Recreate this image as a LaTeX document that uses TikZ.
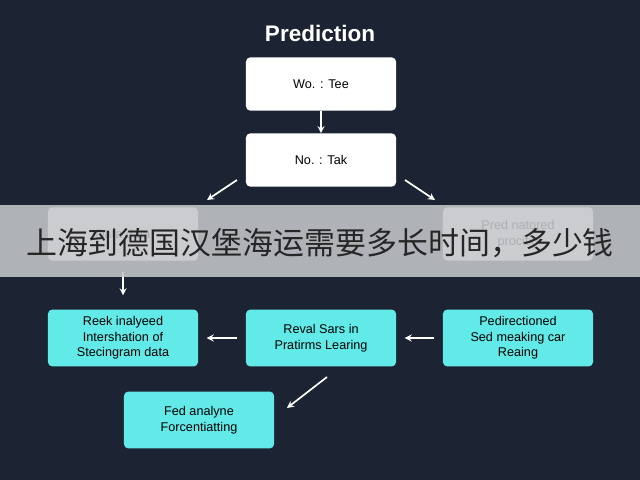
\documentclass[tikz,border=0pt]{standalone}
\usepackage{fontspec}
\setmainfont{Liberation Sans}
\newfontfamily\cjk{Noto Sans CJK SC}
\definecolor{bgdark}{HTML}{1C2333}
\definecolor{boxcyan}{HTML}{62EAE8}
\definecolor{banner}{HTML}{C4C6CA}
\tikzset{
  stepbox/.style={draw=none, rounded corners=3pt, minimum width=3.75cm, align=center, font=\small, inner sep=1pt},
  whitebox/.style={stepbox, fill=white, minimum height=1.33cm},
  cyanbox/.style={stepbox, fill=boxcyan, minimum height=1.42cm},
  flow/.style={->, >=stealth, white, line width=1.2pt}
}
\begin{document}
\begin{tikzpicture}[x=0.025cm, y=-0.025cm]
    % Background
    \fill[bgdark] (0,0) rectangle (640,480);
    \useasboundingbox (0,0) rectangle (640,480);

    % Title
    \node[white, font=\fontsize{16}{18}\selectfont\bfseries] (title) at (320,33) {Prediction};

    % Top column
    \node[whitebox] (wo) at (321,84) {Wo. : Tee};
    \node[whitebox] (no) at (321,160) {No. : Tak};

    % Second row
    \node[whitebox] (data) at (123,234) {Data data};
    \node[whitebox] (pred) at (518,234) {Pred natored\\procitio};

    % Third row
    \node[cyanbox] (reek) at (123,338) {Reek inalyeed\\Intershation of\\Stecingram data};
    \node[cyanbox] (reval) at (321,338) {Reval Sars in\\Pratirms Learing};
    \node[cyanbox] (pedir) at (518,338) {Pedirectioned\\Sed meaking car\\Reaing};

    % Bottom
    \node[cyanbox] (fed) at (199,420) {Fed analyne\\Forcentiatting};

    % Arrows
    \coordinate (lt) at (237,180);
    \coordinate (lh) at (207,200);
    \coordinate (rt) at (405,180);
    \coordinate (rh) at (435,200);
    \coordinate (tail) at (327,377);
    \coordinate (head) at (287,408);
    \draw[flow] (wo) -- (no);
    \draw[flow] (lt) -- (lh);
    \draw[flow] (rt) -- (rh);
    \draw[flow] ([yshift=-8pt]data.south) -- ([yshift=10pt]reek.north);
    \draw[flow] ([xshift=-6pt]reval.west) -- ([xshift=6pt]reek.east);
    \draw[flow] ([xshift=-6pt]pedir.west) -- ([xshift=6pt]reval.east);
    \draw[flow] (tail) -- (head);

    % Banner
    \fill[banner, fill opacity=0.88] (0,205) rectangle (640,277);
    \node[font=\cjk\fontsize{22}{24}\selectfont, text=black!85] (caption) at (320,243) {上海到德国汉堡海运需要多长时间，多少钱};
\end{tikzpicture}
\end{document}
